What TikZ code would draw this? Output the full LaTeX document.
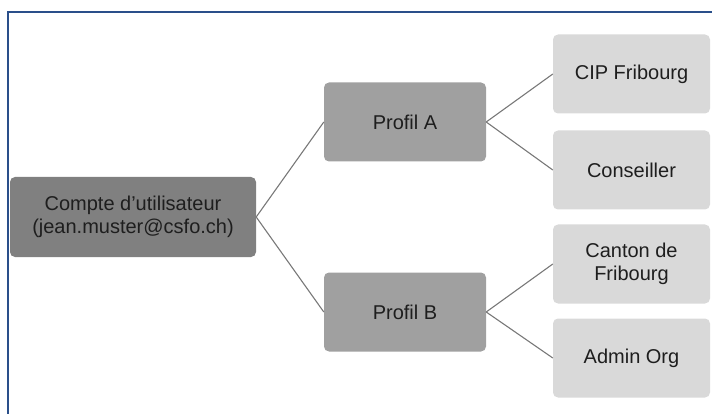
\documentclass[tikz,border=0pt]{standalone}
\usepackage{fontspec}
\setmainfont{Liberation Sans}
\definecolor{framecol}{RGB}{42,79,138}
\definecolor{rootfill}{RGB}{128,128,128}
\definecolor{midfill}{RGB}{160,160,160}
\definecolor{leaffill}{RGB}{217,217,217}
\definecolor{linkcol}{RGB}{120,120,120}
\definecolor{txt}{RGB}{30,30,30}
\begin{document}
\begin{tikzpicture}[x=1pt,y=-1pt,
  box/.style={rounded corners=5pt, inner sep=0pt, align=center, text=txt,
    font=\fontsize{20}{23}\selectfont},
  rootbox/.style={box, fill=rootfill, minimum width=246pt, minimum height=80pt},
  midbox/.style={box, fill=midfill, minimum width=162pt, minimum height=79pt},
  leafbox/.style={box, fill=leaffill, minimum width=157pt, minimum height=79pt},
  link/.style={draw=linkcol, line width=1.1pt},
  framel/.style={draw=framecol, line width=2pt}]
\useasboundingbox (0,0) rectangle (712,414);
\draw[framel] (712,12) -- (8,12) -- (8,414);
\node[rootbox] (root) at (133,217) {Compte d'utilisateur\\(jean.muster@csfo.ch)};
\node[midbox] (pa) at (405,122) {Profil A};
\node[midbox] (pb) at (405,312) {Profil B};
\node[leafbox] (cip) at (631.5,74) {CIP Fribourg};
\node[leafbox] (cons) at (631.5,170) {Conseiller};
\node[leafbox] (cant) at (631.5,264) {Canton de\\Fribourg};
\node[leafbox] (adm) at (631.5,358) {Admin Org};
\draw[link] (root.east) -- (pa.west);
\draw[link] (root.east) -- (pb.west);
\draw[link] (pa.east) -- (cip.west);
\draw[link] (pa.east) -- (cons.west);
\draw[link] (pb.east) -- (cant.west);
\draw[link] (pb.east) -- (adm.west);
\end{tikzpicture}
\end{document}
